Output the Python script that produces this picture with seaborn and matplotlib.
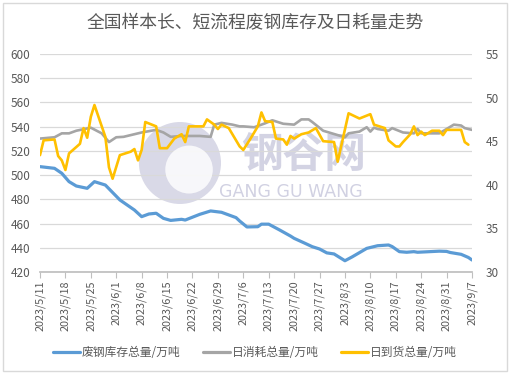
import matplotlib
matplotlib.use("Agg")
import matplotlib.pyplot as plt
from matplotlib.patches import Ellipse, Rectangle
from matplotlib.lines import Line2D
import pandas as pd
import seaborn as sns

# ------------------------------------------------------------------ #
# Data
# ------------------------------------------------------------------ #
TITLE = "全国样本长、短流程废钢库存及日耗量走势"
NAME_STOCK = "废钢库存总量/万吨"
NAME_USE = "日消耗总量/万吨"
NAME_ARRIVE = "日到货总量/万吨"

stock_dates = [
    "2023-05-11", "2023-05-15", "2023-05-17", "2023-05-19", "2023-05-21", "2023-05-24",
    "2023-05-26", "2023-05-29", "2023-06-02", "2023-06-06", "2023-06-08", "2023-06-10",
    "2023-06-12", "2023-06-14", "2023-06-16", "2023-06-19", "2023-06-20", "2023-06-24",
    "2023-06-27", "2023-06-30", "2023-07-04", "2023-07-05", "2023-07-07", "2023-07-10",
    "2023-07-11", "2023-07-13", "2023-07-16", "2023-07-19", "2023-07-20", "2023-07-23",
    "2023-07-25", "2023-07-27", "2023-07-29", "2023-07-31", "2023-08-03", "2023-08-05",
    "2023-08-07", "2023-08-09", "2023-08-12", "2023-08-15", "2023-08-16", "2023-08-18",
    "2023-08-20", "2023-08-22", "2023-08-23", "2023-08-29", "2023-08-31", "2023-09-01",
    "2023-09-04", "2023-09-06", "2023-09-07",
]
stock_vals = [
    507.0, 505.6, 501.5, 494.6, 491.0, 489.1,
    494.6, 491.8, 479.5, 471.2, 465.7, 467.9,
    468.5, 464.3, 462.6, 463.5, 462.9, 467.6,
    470.4, 469.3, 464.9, 462.1, 457.2, 457.4,
    459.5, 459.5, 454.7, 449.7, 447.8, 443.7,
    440.9, 439.0, 435.8, 434.9, 429.3, 432.5,
    436.0, 439.5, 441.7, 442.3, 441.0, 436.8,
    436.3, 436.8, 436.3, 437.2, 437.0, 436.1,
    434.6, 432.0, 429.9,
]

use_dates = [
    "2023-05-11", "2023-05-15", "2023-05-17", "2023-05-19", "2023-05-21", "2023-05-25",
    "2023-05-28", "2023-05-30", "2023-06-01", "2023-06-03", "2023-06-06", "2023-06-08",
    "2023-06-12", "2023-06-14", "2023-06-16", "2023-06-19", "2023-06-24", "2023-06-27",
    "2023-06-28", "2023-06-30", "2023-07-03", "2023-07-05", "2023-07-06", "2023-07-09",
    "2023-07-12", "2023-07-14", "2023-07-17", "2023-07-20", "2023-07-22", "2023-07-24",
    "2023-07-25", "2023-07-28", "2023-08-01", "2023-08-03", "2023-08-04", "2023-08-07",
    "2023-08-09", "2023-08-10", "2023-08-11", "2023-08-12", "2023-08-15", "2023-08-16",
    "2023-08-19", "2023-08-22", "2023-08-23", "2023-08-24", "2023-08-29", "2023-08-31",
    "2023-09-02", "2023-09-04", "2023-09-05", "2023-09-07",
]
use_vals = [
    45.3, 45.45, 45.9, 45.9, 46.2, 46.55,
    45.9, 44.9, 45.45, 45.5, 45.8, 46.0,
    46.3, 46.0, 45.5, 45.6, 45.6, 45.5,
    46.9, 47.1, 46.9, 46.7, 46.7, 46.6,
    47.05, 47.4, 47.0, 46.9, 47.5, 47.5,
    47.2, 46.2, 45.7, 45.45, 45.9, 46.1,
    46.6, 46.1, 46.55, 46.4, 46.2, 46.5,
    46.0, 45.9, 46.4, 45.9, 45.9, 46.4,
    46.9, 46.8, 46.5, 46.3,
]

arrive_dates = [
    "2023-05-11", "2023-05-12", "2023-05-15", "2023-05-16", "2023-05-17", "2023-05-18",
    "2023-05-19", "2023-05-22", "2023-05-23", "2023-05-24", "2023-05-25", "2023-05-26",
    "2023-05-29", "2023-05-30", "2023-05-31", "2023-06-02", "2023-06-05", "2023-06-06",
    "2023-06-07", "2023-06-08", "2023-06-09", "2023-06-12", "2023-06-13", "2023-06-15",
    "2023-06-17", "2023-06-19", "2023-06-20", "2023-06-21", "2023-06-25", "2023-06-26",
    "2023-06-28", "2023-06-29", "2023-06-30", "2023-07-02", "2023-07-04", "2023-07-05",
    "2023-07-06", "2023-07-08", "2023-07-10", "2023-07-11", "2023-07-12", "2023-07-14",
    "2023-07-15", "2023-07-17", "2023-07-18", "2023-07-19", "2023-07-20", "2023-07-22",
    "2023-07-24", "2023-07-26", "2023-07-28", "2023-07-31", "2023-08-01", "2023-08-04",
    "2023-08-07", "2023-08-10", "2023-08-11", "2023-08-14", "2023-08-15", "2023-08-17",
    "2023-08-18", "2023-08-19", "2023-08-21", "2023-08-22", "2023-08-23", "2023-08-24",
    "2023-08-25", "2023-08-27", "2023-08-29", "2023-08-30", "2023-08-31", "2023-09-04",
    "2023-09-05", "2023-09-06",
]
arrive_vals = [
    43.4, 45.1, 45.2, 43.3, 42.8, 41.7,
    43.6, 44.7, 46.5, 45.4, 47.8, 49.15,
    45.5, 42.0, 40.7, 43.4, 43.8, 44.1,
    42.8, 44.0, 47.2, 46.7, 44.2, 44.2,
    45.3, 45.8, 44.9, 46.7, 46.7, 47.5,
    46.9, 46.4, 46.9, 46.5, 45.1, 44.4,
    44.0, 45.3, 46.7, 48.3, 47.3, 47.2,
    45.3, 45.2, 44.6, 45.6, 45.3, 45.8,
    46.0, 46.5, 45.0, 44.9, 42.65, 48.2,
    47.6, 48.1, 46.9, 46.5, 45.1, 44.4,
    44.4, 44.9, 45.8, 46.7, 45.7, 46.1,
    45.7, 46.2, 46.2, 45.7, 46.3, 46.3,
    44.9, 44.6,
]

x_start, x_end = "2023-05-11", "2023-09-07"
left_ticks = list(range(420, 601, 20))
right_ticks = list(range(30, 56, 5))

COL_STOCK = "#5B9BD5"
COL_USE = "#A5A5A5"
COL_ARRIVE = "#FFC000"
TXT = "#595959"
GRID = "#D9D9D9"
WM = "#C9C9DD"

# ------------------------------------------------------------------ #
# Plot
# ------------------------------------------------------------------ #
sns.set_theme(style="white")
plt.rcParams["font.family"] = ["Noto Sans CJK SC", "DejaVu Sans"]

stock = pd.DataFrame({"date": pd.to_datetime(stock_dates), "v": stock_vals})
use = pd.DataFrame({"date": pd.to_datetime(use_dates), "v": use_vals})
arrive = pd.DataFrame({"date": pd.to_datetime(arrive_dates), "v": arrive_vals})

fig = plt.figure(figsize=(5.10, 3.74), dpi=100, facecolor="white")
ax = fig.add_axes([40 / 510, 1 - 272 / 374, 432 / 510, 218 / 374])
ax.set_facecolor("none")
ax2 = ax.twinx()

# watermark (logo + name)
ax.add_patch(Ellipse((0.324, 0.50), 0.19, 0.376, transform=ax.transAxes,
                     facecolor=WM, edgecolor="none", alpha=0.7, zorder=0.5))
ax.add_patch(Ellipse((0.345, 0.47), 0.11, 0.22, transform=ax.transAxes,
                     facecolor="white", edgecolor="none", alpha=0.8, zorder=0.6))
ax.text(0.61, 0.535, "钢谷网", transform=ax.transAxes, ha="center", va="center",
        fontsize=30, fontweight="bold", color=WM, alpha=0.8, zorder=0.5)
ax.text(0.58, 0.365, "GANG GU WANG", transform=ax.transAxes, ha="center",
        va="center", fontsize=12.5, color=WM, alpha=0.85, zorder=0.5,
        family=["DejaVu Sans"])

sns.lineplot(data=stock, x="date", y="v", ax=ax, color=COL_STOCK, lw=2.3, zorder=2)
sns.lineplot(data=use, x="date", y="v", ax=ax2, color=COL_USE, lw=1.9, zorder=2)
sns.lineplot(data=arrive, x="date", y="v", ax=ax2, color=COL_ARRIVE, lw=1.9, zorder=3)

ax.set_xlim(pd.Timestamp(x_start), pd.Timestamp(x_end))
ax.set_ylim(420, 600)
ax2.set_ylim(30, 55)
ax.set_yticks(left_ticks)
ax2.set_yticks(right_ticks)

xt = pd.date_range(x_start, x_end, freq="7D")
ax.set_xticks(xt)
ax.set_xticklabels([f"{d.year}/{d.month}/{d.day}" for d in xt], rotation=90)

for a in (ax, ax2):
    a.set_xlabel("")
    a.set_ylabel("")
    for s in a.spines.values():
        s.set_visible(False)

ax.spines["bottom"].set_visible(True)
ax.spines["bottom"].set_color("#BFBFBF")
ax.yaxis.grid(True, color=GRID, lw=0.9)
ax.set_axisbelow(True)
ax.tick_params(axis="x", length=4, width=0.8, color="#BFBFBF", direction="out",
               labelsize=7.8, labelcolor=TXT, pad=2, bottom=True)
ax.tick_params(axis="y", length=0, labelsize=8.5, labelcolor=TXT, pad=7)
ax2.tick_params(axis="y", length=0, labelsize=8.5, labelcolor=TXT, pad=10)

fig.text(0.5, 0.937, TITLE, ha="center", va="center", fontsize=12.8, color=TXT)

handles = [Line2D([], [], color=COL_STOCK, lw=2.3),
           Line2D([], [], color=COL_USE, lw=2.3),
           Line2D([], [], color=COL_ARRIVE, lw=2.3)]
fig.legend(handles, [NAME_STOCK, NAME_USE, NAME_ARRIVE], loc="center",
           bbox_to_anchor=(0.5, 0.058), ncol=3, frameon=False, fontsize=8.5,
           labelcolor=TXT, handlelength=2.3, handletextpad=0.15, columnspacing=1.9)

fig.add_artist(Rectangle((3 / 510, 3 / 374), 504 / 510, 368 / 374,
                         transform=fig.transFigure, fill=False,
                         edgecolor=GRID, lw=1))

fig.savefig("out.png", dpi=100, facecolor="white")
